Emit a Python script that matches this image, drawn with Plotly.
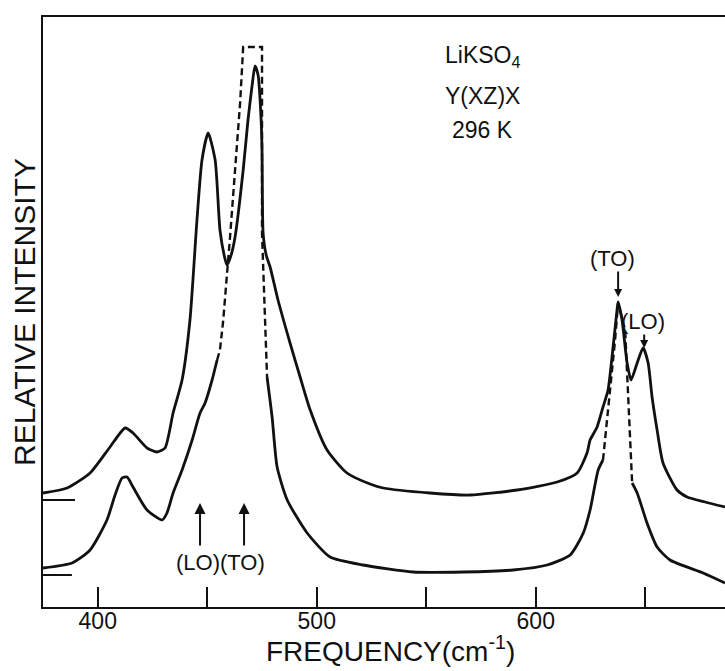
import plotly.graph_objects as go

# ---------------- data ----------------
# Upper spectrum (solid)
upper_freq = [375.0, 386.0, 396.5, 405.6, 412.5, 416.1, 422.5, 427.1, 430.7, 434.4,
              438.5, 442.1, 445.3, 447.6, 450.4, 453.6, 455.8, 457.7, 459.0, 460.9,
              462.7, 466.4, 468.6, 470.5, 471.8, 473.2, 474.6, 475.0, 475.5, 476.9,
              478.7, 482.3, 487.8, 492.4, 497.0, 504.7, 513.8, 524.3, 530.3, 551.7,
              570.0, 591.5, 609.8, 618.9, 623.4, 624.8, 628.0, 630.7, 633.0, 635.3,
              637.1, 637.6, 639.4, 641.7, 643.5, 646.3, 649.0, 651.3, 653.1, 655.4,
              658.1, 664.5, 669.1, 677.3, 686.4]
upper_int = [114, 119, 134, 160, 179, 174, 159, 155, 159, 194,
             227, 287, 387, 447, 474, 447, 377, 352, 342, 352,
             370, 437, 487, 522, 541, 532, 487, 457, 374, 352,
             340, 307, 264, 230, 197, 157, 134, 123, 119, 114,
             112, 117, 125, 134, 154, 167, 180, 200, 217, 260,
             297, 305, 287, 244, 227, 244, 259, 244, 210, 177,
             144, 117, 110, 105, 100]

# Lower spectrum (solid, with off-scale parts drawn dashed)
lower_freq = [375.0, 388.3, 396.5, 404.2, 407.9, 411.1, 413.4, 416.1, 422.5, 429.4,
              431.6, 434.4, 438.5, 443.1, 446.7, 449.0, 452.2, 454.5, 455.8, 457.3,
              459.1, 460.4, 462.7, 465.0, 466.4, 475.0, 475.0, 476.0, 477.3, 479.6,
              481.9, 486.5, 495.6, 506.1, 521.2, 544.0, 566.8, 589.7, 605.2, 615.7,
              621.7, 624.8, 628.5, 630.7, 633.9, 636.2, 637.6, 640.8, 642.2, 644.0,
              646.3, 650.8, 655.4, 661.3, 676.4, 686.4]
lower_int = [39, 44, 57, 87, 112, 129, 130, 120, 97, 87,
             94, 114, 137, 167, 194, 204, 227, 247, 257, 287,
             334, 370, 437, 504, 560, 560, 374, 307, 230, 190,
             140, 107, 74, 50, 42, 35, 35, 37, 42, 52,
             74, 97, 137, 147, 214, 267, 304, 277, 210, 124,
             114, 84, 60, 47, 34, 24]
# frequency intervals where the lower trace is drawn dashed (off scale)
lower_dashed_ranges = [(454.5, 477.3), (630.7, 644.0)]

# zero-intensity markers at the left edge of each trace
zero_levels = [107, 32]
zero_marker_ends = [389.6, 388.2]

# mode assignments
bottom_mode_labels = ["(LO)", "(TO)"]
bottom_mode_freqs = [446.7, 466.8]
right_mode_labels = ["(TO)", "(LO)"]
right_mode_freqs = [637.6, 649.5]
right_mode_ints = [310, 259]

x_tick_vals = [400, 450, 500, 550, 600, 650]
x_tick_text = ["400", "", "500", "", "600", ""]
sample_lines = ["LiKSO<sub>4</sub>", "Y(XZ)X", "296 K"]

# ---------------- figure ----------------
INK = "#111111"
FONT = "Liberation Sans"
fig = go.Figure()

fig.add_trace(go.Scatter(x=upper_freq, y=upper_int, mode="lines",
                         line=dict(color=INK, width=2.8, shape="spline", smoothing=0.6),
                         showlegend=False, hoverinfo="skip"))


def in_dash(f):
    return any(a <= f <= b for a, b in lower_dashed_ranges)


segs = []
cur = None
for i in range(len(lower_freq) - 1):
    style = "dash" if (in_dash(lower_freq[i]) and in_dash(lower_freq[i + 1])) else "solid"
    if cur is None or cur[0] != style:
        cur = [style, [lower_freq[i]], [lower_int[i]]]
        segs.append(cur)
    cur[1].append(lower_freq[i + 1])
    cur[2].append(lower_int[i + 1])

for style, xs, ys in segs:
    if style == "solid":
        ln = dict(color=INK, width=2.8, shape="spline", smoothing=0.6)
    else:
        ln = dict(color=INK, width=2.4, dash="7px,4px")
    fig.add_trace(go.Scatter(x=xs, y=ys, mode="lines", line=ln,
                             showlegend=False, hoverinfo="skip"))

for lvl, xe in zip(zero_levels, zero_marker_ends):
    fig.add_trace(go.Scatter(x=[375.0, xe], y=[lvl, lvl], mode="lines",
                             line=dict(color=INK, width=2), showlegend=False,
                             hoverinfo="skip"))

ann = []
for lab, f in zip(bottom_mode_labels, bottom_mode_freqs):
    ann.append(dict(x=f, y=104, xref="x", yref="y", text="", showarrow=True,
                    ax=0, ay=44, arrowhead=2, arrowsize=1.1, arrowwidth=2,
                    arrowcolor=INK))
    ann.append(dict(x=f, y=45, xref="x", yref="y", text=lab, showarrow=False,
                    xshift=-2, font=dict(family=FONT, size=22, color=INK)))

for lab, f, v, tail, dx in zip(right_mode_labels, right_mode_freqs, right_mode_ints,
                               [-27, -15], [-6, -1]):
    ann.append(dict(x=f, y=v, xref="x", yref="y", text="", showarrow=True,
                    ax=0, ay=tail, arrowhead=2, arrowsize=0.8, arrowwidth=2,
                    arrowcolor=INK))
    ann.append(dict(x=f, y=v, xref="x", yref="y", text=lab, showarrow=False,
                    xshift=dx, yshift=-tail + 12,
                    font=dict(family=FONT, size=22, color=INK)))

for txt, yv in zip(sample_lines, [551, 511, 477]):
    ann.append(dict(x=575.5, y=yv, xref="x", yref="y", text=txt, showarrow=False,
                    font=dict(family=FONT, size=23, color=INK)))

ann.append(dict(x=-0.028, y=0.50, xref="paper", yref="paper",
                text="RELATIVE INTENSITY", showarrow=False, textangle=-90,
                xanchor="center", yanchor="middle",
                font=dict(family=FONT, size=30, color=INK)))
ann.append(dict(x=0.51, y=-0.072, xref="paper", yref="paper",
                text="FREQUENCY(cm<sup>-1</sup>)", showarrow=False,
                xanchor="center", yanchor="middle",
                font=dict(family=FONT, size=28, color=INK)))

fig.update_layout(
    width=725, height=671,
    margin=dict(l=43, r=0, t=17, b=64),
    paper_bgcolor="white", plot_bgcolor="white",
    annotations=ann,
    xaxis=dict(range=[375.0, 686.4], showgrid=False, zeroline=False,
               showline=True, mirror=True, linecolor=INK, linewidth=2,
               ticks="inside", ticklen=20, tickwidth=2, tickcolor=INK,
               tickvals=x_tick_vals, ticktext=x_tick_text,
               ticklabelstandoff=-8,
               tickfont=dict(family=FONT, size=23, color=INK)),
    yaxis=dict(range=[0, 590], showgrid=False, zeroline=False,
               showline=True, linecolor=INK, linewidth=2,
               showticklabels=False, ticks=""),
)

fig.write_html("out.html")
